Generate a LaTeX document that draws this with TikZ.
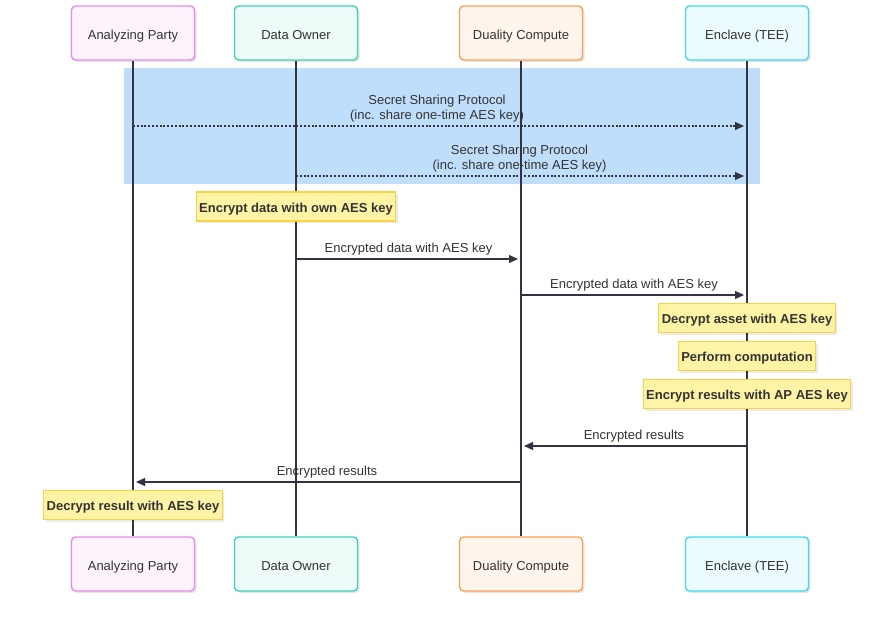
\documentclass[tikz,border=0pt]{standalone}
\usepackage{fontspec}
\setmainfont{Liberation Sans}
\usetikzlibrary{arrows.meta, backgrounds, calc, shadows}
\definecolor{apfill}{HTML}{FCF3FD}
\definecolor{apborder}{HTML}{E98AF3}
\definecolor{dofill}{HTML}{EEFBF8}
\definecolor{doborder}{HTML}{40D2B3}
\definecolor{dcfill}{HTML}{FFF5EC}
\definecolor{dcborder}{HTML}{FFA055}
\definecolor{enfill}{HTML}{ECFBFE}
\definecolor{enborder}{HTML}{44D8F0}
\definecolor{notefill}{HTML}{FFF3A6}
\definecolor{noteborder}{HTML}{F6D444}
\definecolor{bandfill}{HTML}{BFDEFB}
\definecolor{darkline}{HTML}{333344}
\definecolor{labeltext}{HTML}{333333}
\tikzset{
  actor/.style={rectangle, rounded corners=4pt, line width=1.4pt,
                minimum width=123pt, minimum height=54pt, text=labeltext,
                font=\fontsize{13}{15}\selectfont, text height=12pt, text depth=0pt,
                drop shadow={shadow xshift=2pt, shadow yshift=-2pt, opacity=0.10, fill=black}},
  apbox/.style={actor, fill=apfill, draw=apborder},
  dobox/.style={actor, fill=dofill, draw=doborder},
  dcbox/.style={actor, fill=dcfill, draw=dcborder},
  enbox/.style={actor, fill=enfill, draw=enborder},
  note/.style={rectangle, fill=notefill, draw=noteborder, line width=1.2pt,
               inner xsep=3pt, minimum height=29pt, text=labeltext,
               text height=11.5pt, text depth=0.5pt,
               font=\fontsize{13}{15}\selectfont\bfseries,
               drop shadow={shadow xshift=2pt, shadow yshift=-2pt, opacity=0.08, fill=black}},
  band/.style={rectangle, fill=bandfill, minimum width=636pt, minimum height=116pt},
  msgtext/.style={font=\fontsize{13}{14.5}\selectfont, text=labeltext, align=center,
                  anchor=south, inner sep=0pt},
  life/.style={line width=1.5pt, draw=darkline},
  call/.style={-{Triangle[length=9pt, width=8pt]}, line width=1.2pt, draw=darkline,
               shorten >=3pt},
  async/.style={call, dash pattern=on 2pt off 1.8pt},
}

\begin{document}
\begin{tikzpicture}[x=1pt, y=-1pt]
\useasboundingbox (0,0) rectangle (891,619);

% Participants, top and bottom rows
\node[apbox] (apTop) at (133,33)  {Analyzing Party};
\node[dobox] (doTop) at (296,33)  {Data Owner};
\node[dcbox] (dcTop) at (521,33)  {Duality Compute};
\node[enbox] (enTop) at (747,33)  {Enclave (TEE)};
\node[apbox] (apBot) at (133,564) {Analyzing Party};
\node[dobox] (doBot) at (296,564) {Data Owner};
\node[dcbox] (dcBot) at (521,564) {Duality Compute};
\node[enbox] (enBot) at (747,564) {Enclave (TEE)};

% Key exchange block
\begin{scope}[on background layer]
  \node[band] (keyband) at (442,126) {};
\end{scope}

% Lifelines
\foreach \p in {ap, do, dc, en} { \draw[life] (\p Top.south) -- (\p Bot.north); }

% Message rows
\coordinate (r1) at (0,126);
\coordinate (r2) at (0,176);
\coordinate (r3) at (0,259);
\coordinate (r4) at (0,295);
\coordinate (r5) at (0,446);
\coordinate (r6) at (0,482);

\draw[async] (apTop |- r1) -- (enTop |- r1);
\node[msgtext] (m1) at ($(apTop |- r1)!0.5!(enTop |- r1)+(-3,-4)$)
  {Secret Sharing Protocol\\(inc. share one-time AES key)};
\draw[async] (doTop |- r2) -- (enTop |- r2);
\node[msgtext] (m2) at ($(doTop |- r2)!0.5!(enTop |- r2)+(-2,-4)$)
  {Secret Sharing Protocol\\(inc. share one-time AES key)};

\node[note] (encData) at (296,206.5) {Encrypt data with own AES key};

\draw[call] (doTop |- r3) -- (dcTop |- r3);
\node[msgtext] (m3) at ($(doTop |- r3)!0.5!(dcTop |- r3)+(0,-4)$) {Encrypted data with AES key};
\draw[call] (dcTop |- r4) -- (enTop |- r4);
\node[msgtext] (m4) at ($(dcTop |- r4)!0.5!(enTop |- r4)+(0,-4)$) {Encrypted data with AES key};

% Enclave work
\node[note] (decAsset) at (747,318) {Decrypt asset with AES key};
\node[note] (compute)  at (747,356) {Perform computation};
\node[note] (encRes)   at (747,394) {Encrypt results with AP AES key};

\draw[call] (enTop |- r5) -- (dcTop |- r5);
\node[msgtext] (m5) at ($(enTop |- r5)!0.5!(dcTop |- r5)+(0,-4)$) {Encrypted results};
\draw[call] (dcTop |- r6) -- (apTop |- r6);
\node[msgtext] (m6) at ($(dcTop |- r6)!0.5!(apTop |- r6)+(0,-4)$) {Encrypted results};

\node[note] (decRes) at (133,505) {Decrypt result with AES key};

\end{tikzpicture}
\end{document}
